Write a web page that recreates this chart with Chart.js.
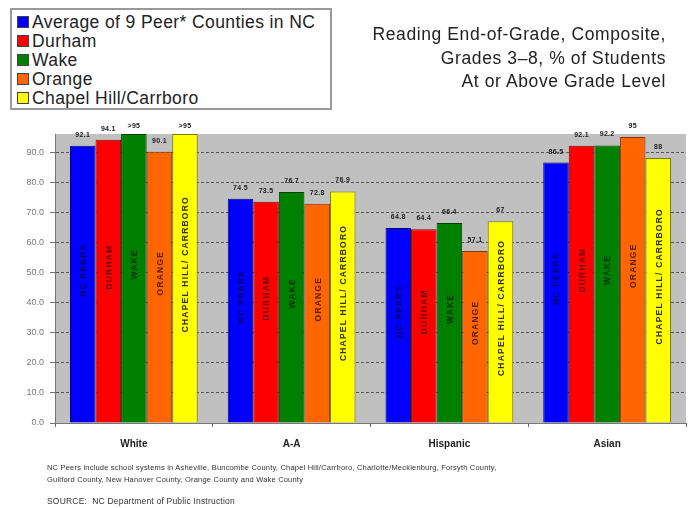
<!DOCTYPE html>
<html>
<head>
<meta charset="utf-8">
<script src="https://cdn.jsdelivr.net/npm/chart.js@4/dist/chart.umd.min.js"></script>
<style>
  body { margin: 0; background: #fff; font-family: Arial, "Liberation Sans", sans-serif; }
  #wrap { position: relative; width: 689px; height: 508px; }
  #legend { position: absolute; left: 10px; top: 8px; width: 322px; height: 102px; border: 2px solid #999; box-sizing: border-box; padding: 3px 0 0 5px; background: #fff; }
  .item { font-size: 17.5px; letter-spacing: 0.4px; line-height: 18.9px; color: #222; white-space: nowrap; }
  .sw { display: inline-block; width: 10px; height: 10px; border: 1px solid #444; margin-right: 3px; vertical-align: 0px; letter-spacing: 0; }
  #title { position: absolute; right: 23px; top: 23px; text-align: right; font-size: 17.5px; letter-spacing: 0.6px; line-height: 23.5px; color: #222; }
  #note { position: absolute; left: 47px; top: 462px; font-size: 7.5px; letter-spacing: 0.2px; line-height: 12px; color: #333; }
  #src { position: absolute; left: 47px; top: 496px; font-size: 8.5px; letter-spacing: 0.2px; color: #333; }
</style>
</head>
<body>
<div id="wrap">
  <canvas id="chart" width="689" height="508"></canvas>
  <div id="legend"></div>
  <div id="title">Reading End-of-Grade, Composite,<br>Grades 3&ndash;8, % of Students<br>At or Above Grade Level</div>
  <div id="note">NC Peers include school systems in Asheville, Buncombe County, Chapel Hill/Carrboro, Charlotte/Mecklenburg, Forsyth County,<br>Guilford County, New Hanover County, Orange County and Wake County</div>
  <div id="src">SOURCE:&nbsp; NC Department of Public Instruction</div>
</div>
<script>
const categories = ["White", "A-A", "Hispanic", "Asian"];

const seriesNames = ["Average of 9 Peer* Counties in NC", "Durham", "Wake", "Orange", "Chapel Hill/Carrboro"];
const barNames = ["NC PEERS", "DURHAM", "WAKE", "ORANGE", "CHAPEL HILL/ CARRBORO"];

// ">95" bars are drawn at 96 and clipped at the top of the plot
const peers = [92.1, 74.5, 64.8, 86.5];
const durham = [94.1, 73.5, 64.4, 92.1];
const wake = [96, 76.7, 66.4, 92.2];
const orange = [90.1, 72.8, 57.1, 95];
const chapelHill = [96, 76.9, 67, 88];

const peersText = ["92.1", "74.5", "64.8", "86.5"];
const durhamText = ["94.1", "73.5", "64.4", "92.1"];
const wakeText = [">95", "76.7", "66.4", "92.2"];
const orangeText = ["90.1", "72.8", "57.1", "95"];
const chapelHillText = [">95", "76.9", "67", "88"];

const colors = ["#0000ff", "#ff0000", "#008000", "#ff6600", "#ffff00"];
const edges = ["#00007a", "#8a0000", "#003f00", "#8a3300", "#7a7a00"];
const innerText = ["#00006a", "#6a0000", "#003000", "#5a2000", "#333300"];

const allData = [peers, durham, wake, orange, chapelHill];
const allText = [peersText, durhamText, wakeText, orangeText, chapelHillText];

// html legend
const legend = document.getElementById("legend");
seriesNames.forEach(function (name, i) {
    const d = document.createElement("div");
    d.className = "item";
    d.innerHTML = '<span class="sw" style="background:' + colors[i] + '"></span>' + name;
    legend.appendChild(d);
});

const plotBg = {
    id: "plotBg",
    beforeDraw: function (chart) {
        const a = chart.chartArea, ctx = chart.ctx;
        ctx.save();
        ctx.fillStyle = "#c0c0c0";
        ctx.fillRect(a.left, a.top, a.right - a.left, a.bottom - a.top);
        ctx.restore();
    }
};

const barLabels = {
    id: "barLabels",
    afterDatasetsDraw: function (chart) {
        const ctx = chart.ctx, a = chart.chartArea;
        ctx.save();
        chart.data.datasets.forEach(function (ds, i) {
            chart.getDatasetMeta(i).data.forEach(function (bar, j) {
                const top = Math.max(bar.y, a.top);
                // value above bar
                ctx.font = "bold 7px Arial";
                ctx.letterSpacing = "0.3px";
                ctx.fillStyle = "#222";
                ctx.textAlign = "center";
                ctx.textBaseline = "middle";
                ctx.fillText(allText[i][j], bar.x, Math.max(top - 11, a.top - 8));
                // rotated name inside bar
                ctx.save();
                ctx.translate(bar.x + 1, (top + bar.base) / 2 - 14);
                ctx.rotate(-Math.PI / 2);
                ctx.font = "bold 8.5px Arial";
                ctx.letterSpacing = "1.2px";
                ctx.fillStyle = innerText[i];
                ctx.fillText(barNames[i], 0, 0);
                ctx.restore();
            });
        });
        ctx.restore();
    }
};

new Chart(document.getElementById("chart"), {
    type: "bar",
    data: {
        labels: categories,
        datasets: seriesNames.map(function (name, i) {
            return {
                label: name,
                data: allData[i],
                backgroundColor: colors[i],
                borderColor: edges[i],
                borderWidth: 1,
                categoryPercentage: 0.81,
                barPercentage: 1.0
            };
        })
    },
    options: {
        responsive: false,
        animation: false,
        layout: { padding: { top: 134, right: 3, left: 0, bottom: 0 } },
        plugins: {
            legend: { display: false },
            tooltip: { enabled: false }
        },
        scales: {
            x: {
                grid: { drawOnChartArea: false, offset: true, tickLength: 4, color: "#666" },
                border: { color: "#777" },
                ticks: { font: { family: "Arial", size: 10, weight: "bold" }, color: "#222", padding: 11 },
                afterFit: function (s) { s.height = 85; }
            },
            y: {
                min: 0,
                max: 96,
                ticks: {
                    stepSize: 10,
                    font: { family: "Arial", size: 9 },
                    color: "#777",
                    padding: 6,
                    callback: function (v) { return v.toFixed(1); }
                },
                afterBuildTicks: function (s) {
                    s.ticks = s.ticks.filter(function (t) { return t.value % 10 === 0; });
                },
                grid: { color: "#555", tickLength: 5, tickColor: "#777" },
                border: { color: "#777", dash: [3, 2] },
                afterFit: function (s) { s.width = 55; }
            }
        }
    },
    plugins: [plotBg, barLabels]
});
</script>
</body>
</html>
